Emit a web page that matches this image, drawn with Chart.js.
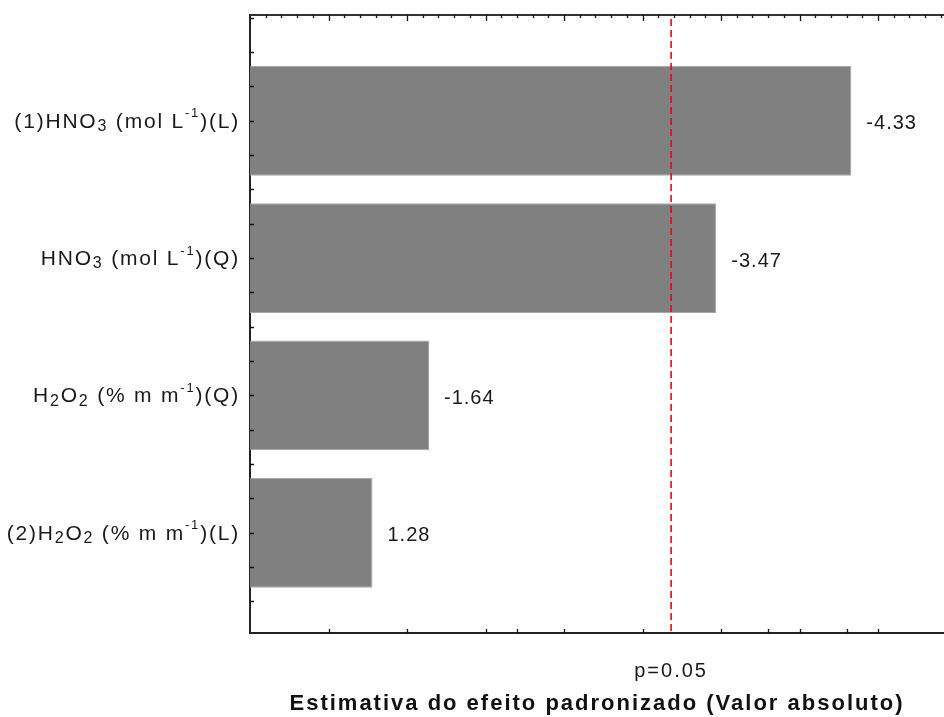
<!DOCTYPE html>
<html>
<head>
<meta charset="utf-8">
<script src="https://cdn.jsdelivr.net/npm/chart.js@4.4.1/dist/chart.umd.min.js"></script>
<style>
  body { margin: 0; background: #fff; }
  canvas { display: block; }
</style>
</head>
<body>
<canvas id="paretoChart" width="944" height="717"></canvas>
<script>
// Pareto chart data (standardized effects)
const factorLabels = [
    "(1)HNO₃ (mol L⁻¹)(L)",
    "HNO₃ (mol L⁻¹)(Q)",
    "H₂O₂ (% m m⁻¹)(Q)",
    "(2)H₂O₂ (% m m⁻¹)(L)"
];
const effects = [-4.33, -3.47, -1.64, 1.28];
const effectLabels = ["-4.33", "-3.47", "-1.64", "1.28"];
const pCritical = 3.182;
const pLabel = "p=0.05";
const xTitle = "Estimativa do efeito padronizado (Valor absoluto)";

// extra little ticks seen on bottom axis
const bottomTicks = [1.0, 1.5, 2.0, 2.2, 2.5, 3.0, 3.5, 3.8, 4.0, 4.3, 4.5];

const FONT = "'Liberation Sans', Arial, sans-serif";
const SPACING = "2px";

const SUBS = { "₂": "2", "₃": "3" };
const SUPS = { "⁻": "-", "¹": "1" };

// the original text is drawn rather wide, so space the letters a bit
const wideText = {
    id: "wideText",
    beforeUpdate(chart) { chart.ctx.letterSpacing = SPACING; },
    beforeDraw(chart) { chart.ctx.letterSpacing = SPACING; }
};

// draw a factor name with real sub/superscripts, right aligned at rx
function drawFactorLabel(ctx, label, rx, cy) {
    const base = 21, gap = 1.8;
    const parts = Array.from(label).map(ch => {
        if (SUBS[ch]) return { t: SUBS[ch], size: 16, dy: 5 };
        if (SUPS[ch]) return { t: SUPS[ch], size: 13, dy: -8 };
        return { t: ch, size: base, dy: 0 };
    });
    ctx.letterSpacing = "0px";
    let total = 0;
    parts.forEach(p => {
        ctx.font = p.size + "px " + FONT;
        p.w = ctx.measureText(p.t).width + gap;
        total += p.w;
    });
    let px = rx - total;
    parts.forEach(p => {
        ctx.font = p.size + "px " + FONT;
        ctx.fillText(p.t, px, cy + p.dy);
        px += p.w;
    });
}

// axis decorations: inward ticks on all sides, top border line, p-line, labels
const axisDecor = {
    id: "axisDecor",
    afterDatasetsDraw(chart) {
        const { ctx, chartArea: a, scales: { x, y } } = chart;
        ctx.save();

        // red dashed significance line
        const px = x.getPixelForValue(pCritical);
        ctx.strokeStyle = "#ff0000";
        ctx.lineWidth = 1.6;
        ctx.setLineDash([7, 4]);
        ctx.beginPath();
        ctx.moveTo(px, a.top + 4);
        ctx.lineTo(px, a.bottom);
        ctx.stroke();
        ctx.setLineDash([]);

        // value labels next to bars
        ctx.fillStyle = "#1a1a1a";
        ctx.font = "20px " + FONT;
        ctx.letterSpacing = "1px";
        ctx.textAlign = "left";
        ctx.textBaseline = "middle";
        chart.getDatasetMeta(0).data.forEach((bar, i) => {
            ctx.fillText(effectLabels[i], bar.x + 15, bar.y + 3);
        });

        // factor names on the left
        factorLabels.forEach((l, i) => {
            drawFactorLabel(ctx, l, a.left - 10, y.getPixelForValue(i + 1) + 1);
        });

        // top border
        ctx.strokeStyle = "#333";
        ctx.lineWidth = 2;
        ctx.beginPath();
        ctx.moveTo(a.left, a.top);
        ctx.lineTo(a.right, a.top);
        ctx.stroke();

        ctx.strokeStyle = "#111";
        ctx.lineWidth = 1.3;
        ctx.beginPath();
        // top ticks, every 0.1, longer every 0.5
        for (let k = 6; k <= 49; k++) {
            const tx = Math.round(x.getPixelForValue(k / 10)) + 0.5;
            const len = (k % 5 === 0) ? 6 : 3;
            ctx.moveTo(tx, a.top);
            ctx.lineTo(tx, a.top + len);
        }
        // bottom ticks
        bottomTicks.forEach(v => {
            const tx = Math.round(x.getPixelForValue(v)) + 0.5;
            ctx.moveTo(tx, a.bottom);
            ctx.lineTo(tx, a.bottom - 4);
        });
        // left ticks every quarter category
        for (let k = 1; k <= 18; k++) {
            const ty = Math.round(y.getPixelForValue(k / 4)) + 0.5;
            ctx.moveTo(a.left, ty);
            ctx.lineTo(a.left + 4, ty);
        }
        ctx.stroke();
        ctx.restore();
    }
};

const ctx = document.getElementById("paretoChart").getContext("2d");
new Chart(ctx, {
    type: "bar",
    data: {
        datasets: [{
            data: effects.map((e, i) => ({ x: Math.abs(e), y: i + 1 })),
            backgroundColor: "#808080",
            borderColor: "#a6a6a6",
            borderWidth: 1,
            barPercentage: 1,
            categoryPercentage: 0.8
        }]
    },
    options: {
        indexAxis: "y",
        responsive: false,
        animation: false,
        layout: { padding: { top: 15, right: 0, left: 0, bottom: 0 } },
        plugins: {
            legend: { display: false },
            tooltip: { enabled: false }
        },
        scales: {
            x: {
                type: "linear",
                position: "bottom",
                min: 0.5,
                max: 4.92,
                afterBuildTicks: axis => { axis.ticks = [{ value: pCritical }]; },
                afterFit: scale => { scale.height = 84; },
                ticks: {
                    callback: () => pLabel,
                    color: "#1a1a1a",
                    font: { family: FONT, size: 20 },
                    padding: 18,
                    maxRotation: 0,
                    autoSkip: false
                },
                grid: { display: false },
                border: { display: true, color: "#222", width: 2 },
                title: {
                    display: true,
                    text: xTitle,
                    color: "#111",
                    font: { family: FONT, size: 22, weight: "bold" },
                    padding: { top: 0, bottom: 0 }
                }
            },
            y: {
                type: "linear",
                reverse: true,
                offset: false,
                grace: 0,
                min: 0.23,
                max: 4.73,
                afterBuildTicks: axis => {
                    axis.ticks = factorLabels.map((l, i) => ({ value: i + 1 }));
                },
                afterFit: scale => { scale.width = 250; },
                ticks: { display: false },
                grid: { display: false, offset: false },
                border: { display: true, color: "#222", width: 2 }
            }
        }
    },
    plugins: [wideText, axisDecor]
});
</script>
</body>
</html>
